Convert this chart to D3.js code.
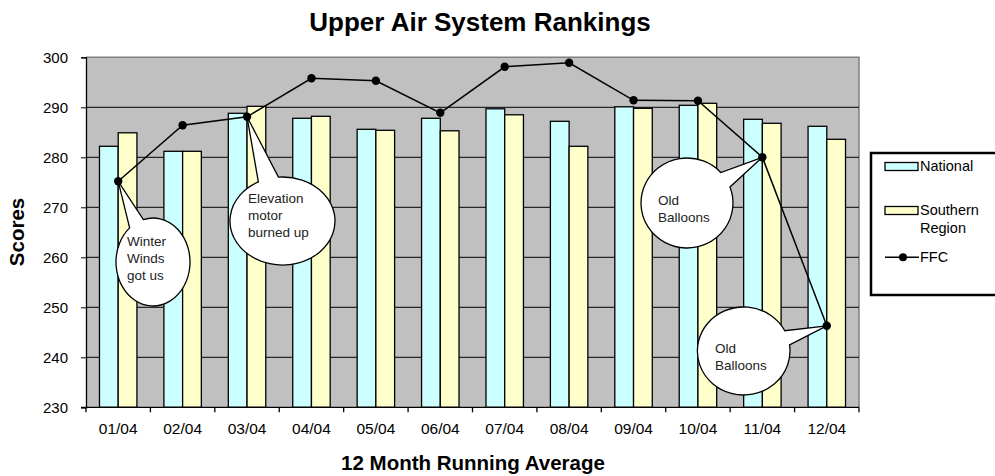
<!DOCTYPE html>
<html><head><meta charset="utf-8">
<script src="https://cdn.jsdelivr.net/npm/d3@7"></script>
<style>body{margin:0;background:#fff}svg{display:block}text{font-family:"Liberation Sans",Arial,sans-serif}</style>
</head><body>
<svg id="c" width="995" height="476"></svg>
<script>
const categories = ["01/04","02/04","03/04","04/04","05/04","06/04","07/04","08/04","09/04","10/04","11/04","12/04"];
const national = [282.2, 281.2, 288.8, 287.8, 285.6, 287.8, 289.7, 287.2, 290.1, 290.4, 287.6, 286.2];
const southern = [284.9, 281.2, 290.2, 288.2, 285.4, 285.3, 288.5, 282.2, 289.8, 290.8, 286.8, 283.6];
const ffc      = [275.2, 286.4, 288.1, 295.8, 295.3, 288.9, 298.1, 298.9, 291.4, 291.3, 280.0, 246.3];
const yTicks   = [230, 240, 250, 260, 270, 280, 290, 300];
const seriesNames = ["National", "Southern Region", "FFC"];
const notes = [
  {i: 0,  lines: ["Winter","Winds","got us"]},
  {i: 2,  lines: ["Elevation","motor","burned up"]},
  {i: 10, lines: ["Old","Balloons"]},
  {i: 11, lines: ["Old","Balloons"]}
];
// bubble layout (pixels)
const bubbleLayout = [
  {cx:153, cy:262, rx:37, ry:44, d:0.21, tx:127, ty:246},
  {cx:282.5, cy:221, rx:52.5, ry:44, d:0.2, tx:248, ty:203},
  {cx:687, cy:203, rx:46, ry:45, d:0.19, tx:658, ty:205},
  {cx:743.7, cy:351, rx:46.3, ry:44, d:0.17, tx:715, ty:353}
];

const svg = d3.select("#c");
const L = 86, R = 859, T = 57.3, B = 407.3;
const x = d3.scaleBand().domain(categories).range([L, R]);
const x1 = d3.scaleBand().domain(["n","s"]).range([0, x.bandwidth()]).paddingOuter(0.72);
const y = d3.scaleLinear().domain([230, 300]).range([B, T]);

svg.append("rect").attr("x", L).attr("y", T).attr("width", R - L).attr("height", B - T).attr("fill", "#c0c0c0");
svg.append("path").attr("d", `M${L},${T}H${R}V${B}`).attr("fill","none").attr("stroke","#808080").attr("stroke-width",1.5);
svg.append("g").selectAll("line").data(yTicks.filter(v => v > 230 && v < 300)).join("line")
  .attr("x1", L).attr("x2", R).attr("y1", d => y(d)).attr("y2", d => y(d))
  .attr("stroke", "#000").attr("stroke-width", 1);

const g = svg.append("g");
g.selectAll("rect.n").data(national).join("rect").attr("class","n")
  .attr("x", (d,i) => x(categories[i]) + x1("n")).attr("width", x1.bandwidth())
  .attr("y", d => y(d)).attr("height", d => B - y(d))
  .attr("fill", "#ccffff").attr("stroke", "#000").attr("stroke-width", 1.3);
g.selectAll("rect.s").data(southern).join("rect").attr("class","s")
  .attr("x", (d,i) => x(categories[i]) + x1("s")).attr("width", x1.bandwidth())
  .attr("y", d => y(d)).attr("height", d => B - y(d))
  .attr("fill", "#ffffcc").attr("stroke", "#000").attr("stroke-width", 1.3);

const yAxis = d3.axisLeft(y).tickValues(yTicks).tickSize(5).tickPadding(13);
const ya = svg.append("g").attr("transform", `translate(${L},0)`).call(yAxis);
ya.select(".domain").attr("stroke","#000").attr("stroke-width",1.3);
ya.selectAll("text").attr("font-size", 15).attr("fill","#000").style("font-family","Liberation Sans, Arial");
const xAxis = d3.axisBottom(x).tickSize(0).tickPadding(16);
const xa = svg.append("g").attr("transform", `translate(0,${B})`).call(xAxis);
xa.select(".domain").remove();
xa.selectAll("text").attr("font-size", 15.5).attr("fill","#000").style("font-family","Liberation Sans, Arial");
svg.append("line").attr("x1", L - 5).attr("x2", R).attr("y1", B).attr("y2", B).attr("stroke","#000").attr("stroke-width",1.3);
svg.append("g").selectAll("line").data(categories.concat(["end"])).join("line")
  .attr("x1", (d,i) => L + i * x.step()).attr("x2", (d,i) => L + i * x.step())
  .attr("y1", B).attr("y2", B + 5).attr("stroke","#000").attr("stroke-width",1.3);

const cx = (i) => x(categories[i]) + x.bandwidth() / 2;
svg.append("path").datum(ffc)
  .attr("d", d3.line().x((d,i) => cx(i)).y(d => y(d)))
  .attr("fill","none").attr("stroke","#000").attr("stroke-width",1.5);
svg.append("g").selectAll("circle").data(ffc).join("circle")
  .attr("cx", (d,i) => cx(i)).attr("cy", d => y(d)).attr("r", 4.2).attr("fill","#000");

notes.forEach((n, k) => {
  const b = bubbleLayout[k];
  const tx = cx(n.i), ty = y(ffc[n.i]);
  const th = Math.atan2((ty - b.cy) / b.ry, (tx - b.cx) / b.rx);
  const a1 = th + b.d, a2 = th - b.d;
  const p1 = [b.cx + b.rx * Math.cos(a1), b.cy + b.ry * Math.sin(a1)];
  const p2 = [b.cx + b.rx * Math.cos(a2), b.cy + b.ry * Math.sin(a2)];
  svg.append("path")
    .attr("d", `M${p1[0]},${p1[1]}A${b.rx},${b.ry} 0 1 1 ${p2[0]},${p2[1]}L${tx},${ty}Z`)
    .attr("fill","#fff").attr("stroke","#000").attr("stroke-width",1.3);
  const t = svg.append("text").attr("font-size", 13.5).attr("fill","#222");
  n.lines.forEach((ln, j) => t.append("tspan").attr("x", b.tx).attr("y", b.ty + j * 17).text(ln));
});

svg.append("rect").attr("x", 871).attr("y", 153).attr("width", 140).attr("height", 142)
  .attr("fill","#fff").attr("stroke","#000").attr("stroke-width",2.5);
const lg = svg.append("g");
lg.append("rect").attr("x",885).attr("y",162.5).attr("width",33).attr("height",8).attr("fill","#ccffff").attr("stroke","#000").attr("stroke-width",1.3);
lg.append("rect").attr("x",885).attr("y",206.5).attr("width",33).attr("height",8).attr("fill","#ffffcc").attr("stroke","#000").attr("stroke-width",1.3);
lg.append("line").attr("x1",885).attr("x2",919).attr("y1",257.3).attr("y2",257.3).attr("stroke","#000").attr("stroke-width",1.5);
lg.append("circle").attr("cx",903).attr("cy",257.3).attr("r",4).attr("fill","#000");
lg.append("text").attr("x",920).attr("y",171).attr("font-size",14.5).text(seriesNames[0]);
const sr = lg.append("text").attr("font-size",14.5);
sr.append("tspan").attr("x",920).attr("y",215).text("Southern");
sr.append("tspan").attr("x",920).attr("y",233).text("Region");
lg.append("text").attr("x",920).attr("y",262).attr("font-size",14.5).text(seriesNames[2]);

svg.append("text").attr("x", 480).attr("y", 31).attr("text-anchor","middle")
  .attr("font-size", 26).attr("font-weight","bold").text("Upper Air System Rankings");
svg.append("text").attr("x", 473).attr("y", 470).attr("text-anchor","middle")
  .attr("font-size", 20.5).attr("font-weight","bold").text("12 Month Running Average");
svg.append("text").attr("transform", "translate(24,232) rotate(-90)").attr("text-anchor","middle")
  .attr("font-size", 20.5).attr("font-weight","bold").text("Scores");
</script>
</body></html>
